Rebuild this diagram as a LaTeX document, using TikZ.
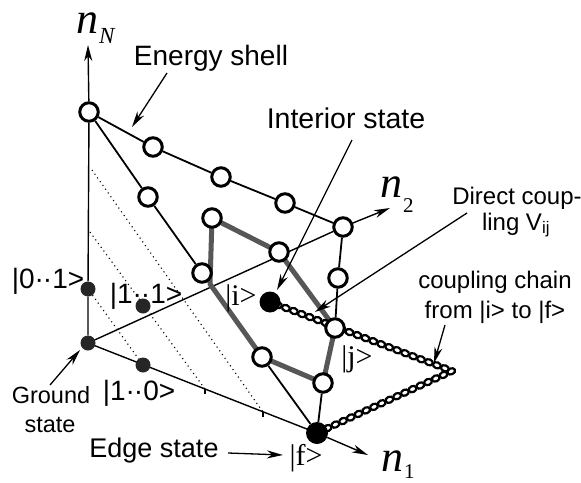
\documentclass[tikz,border=0pt]{standalone}
\usepackage{fontspec}
\setmainfont{Liberation Sans}
\newfontfamily\serif{Liberation Serif}
\usetikzlibrary{arrows.meta,decorations.markings}
\pgfdeclarelayer{bg}
\pgfsetlayers{bg,main}
\tikzset{
 openc/.style={circle,draw,line width=3pt,fill=white,minimum size=18.5pt,inner sep=0pt},
 bigdot/.style={circle,fill=black,minimum size=#1,inner sep=0pt},
 smalldot/.style={circle,fill=black!85,minimum size=15pt,inner sep=0pt},
 edgeline/.style={line width=1.8pt},
 axisline/.style={line width=1.4pt},
 tipped/.style={-{Stealth[length=16pt,width=8pt,inset=5pt]}},
 note/.style={line width=1.3pt,tipped},
 grayline/.style={line width=5pt,draw=black!66,line join=round},
 dotline/.style={line width=1.1pt,dash pattern=on 1.1pt off 3.5pt},
 chainline/.style={decoration={markings,mark=between positions 0 and 1 step 8.5pt with {\draw[line width=2.2pt,fill=white] (0,0) ellipse (4pt and 3pt);}},decorate},
 lab/.style={inner sep=0pt,anchor=base,font=\fontsize{#1}{#1}\selectfont},
 ket/.style={inner sep=0pt,anchor=base,font=\fontsize{28}{28}\selectfont},
 sket/.style={inner sep=0pt,anchor=base,font=\serif\fontsize{30}{30}\selectfont},
 nlab/.style={inner sep=0pt,anchor=base west,font=\serif\itshape\fontsize{44}{44}\selectfont},
 sublab/.style={inner sep=0pt,anchor=base west,font=\serif\fontsize{#1}{#1}\selectfont},
}
\begin{document}
\begin{tikzpicture}[x=1pt,y=-1pt]
\useasboundingbox (0,0) rectangle (581,482);
% state nodes
\node[smalldot] (O) at (88,343) {};
\node[smalldot] (d01) at (88,289) {};
\node[smalldot] (d11) at (143,306) {};
\node[smalldot] (d10) at (143,365) {};
\node[openc] (A) at (89,112) {};
\node[openc] (c1) at (153,147) {};
\node[openc] (c2) at (221,177) {};
\node[openc] (c3) at (285,203) {};
\node[openc] (B) at (343,227) {};
\node[openc] (l1) at (148,197) {};
\node[openc] (l2) at (202,273) {};
\node[openc] (l3) at (262,357) {};
\node[openc] (r1) at (338,278) {};
\node[openc] (J) at (335,328) {};
\node[openc] (r3) at (323,383) {};
\node[openc] (g1) at (212,218) {};
\node[openc] (g2) at (279,252) {};
\node[bigdot=21pt] (I) at (270,302) {};
\node[bigdot=22pt] (F) at (317,433) {};
% coordinates
\coordinate (tipN) at (88,45);
\coordinate (tip2) at (390,208);
\coordinate (tip1) at (368,455);
\coordinate (gv) at (210,284);
\coordinate (C) at (452,371);
\coordinate (dA1) at (92,170);
\coordinate (dA2) at (263,412);
\coordinate (dB1) at (90,232);
\coordinate (dB2) at (205,389);
\coordinate (tA) at (263,417);
\coordinate (tB) at (205,394);
% text labels
\node[lab=28] (es) at (211,65) {Energy shell};
\node[lab=28.5] (is) at (346,128) {Interior state};
\node[lab=24] (dc) at (517,204) {Direct coup-};
\node[lab=24] (dc2) at (516,230) {ling V\textsubscript{ij}};
\node[lab=24] (cc) at (495,288) {coupling chain};
\node[lab=24] (cc2) at (495,318) {from |i> to |f>};
\node[lab=23.5] (gs) at (51,403) {Ground};
\node[lab=23.5] (gs2) at (50,432) {state};
\node[lab=27] (ed) at (154,457) {Edge state};
\node[ket] (k01) at (48,288) {|0·\kern-1pt·1>};
\node[ket] (k11) at (146,303) {|1·\kern-1pt·1>};
\node[ket] (k10) at (139,400) {|1·\kern-1pt·0>};
\node[sket] (ki) at (241,305) {|i>};
\node[sket] (kj) at (357,366) {|j>};
\node[sket] (kf) at (306,465) {|f>};
\node[nlab] (nN) at (76,33) {n};
\node[sublab=23,font=\serif\itshape\fontsize{23}{23}\selectfont] (nNs) at (99,43) {N};
\node[nlab] (n2) at (380,197) {n};
\node[sublab=21] (n2s) at (403,212) {2};
\node[nlab] (n1) at (381,471) {n};
\node[sublab=21] (n1s) at (404,478) {1};
% annotation arrow coordinates
\coordinate (es1) at (167,73);
\coordinate (es2) at (132,127);
\coordinate (is1) at (352,140);
\coordinate (is2) at (277,290);
\coordinate (dc1) at (467,213);
\coordinate (dcT) at (315,312);
\coordinate (cc1) at (445,325);
\coordinate (ccT) at (434,363);
\coordinate (gs1) at (50,385);
\coordinate (gsT) at (80,350);
\coordinate (ed1) at (228,453);
\coordinate (edT) at (283,455);
\begin{pgfonlayer}{bg}
 % axes
 \draw[axisline] (O) -- (d01) -- (A);
 \draw[axisline,tipped] (A) -- (tipN);
 \draw[axisline] (O.center) -- (B);
 \draw[axisline,tipped] (B) -- (tip2);
 \draw[axisline] (O.center) -- (F.center);
 \draw[axisline,tipped] (F) -- (tip1);
 \draw[axisline] (dA2) -- (tA);
 \draw[axisline] (dB2) -- (tB);
 % dotted lines
 \draw[dotline] (dA1) -- (dA2);
 \draw[dotline] (dB1) -- (dB2);
 \draw[dotline] (d01) -- (d10);
 % energy shell edges
 \draw[edgeline] (A) -- (c1) -- (c2) -- (c3) -- (B);
 \draw[edgeline] (A) -- (l1) -- (l2) -- (l3) -- (F);
 \draw[edgeline] (B) -- (r1) -- (J) -- (r3) -- (F);
 % gray path
 \draw[grayline] (g1.center) -- (g2.center) -- (J.center) -- (r3.center) -- (l3.center) -- (gv) -- cycle;
 % coupling chain
 \draw[chainline] (I.center) -- (C) -- (F.center);
 % annotation arrows
 \draw[note] (es1) -- (es2);
 \draw[note] (is1) -- (is2);
 \draw[note] (dc1) -- (dcT);
 \draw[note] (cc1) -- (ccT);
 \draw[note] (gs1) -- (gsT);
 \draw[note] (ed1) -- (edT);
\end{pgfonlayer}
\end{tikzpicture}
\end{document}
